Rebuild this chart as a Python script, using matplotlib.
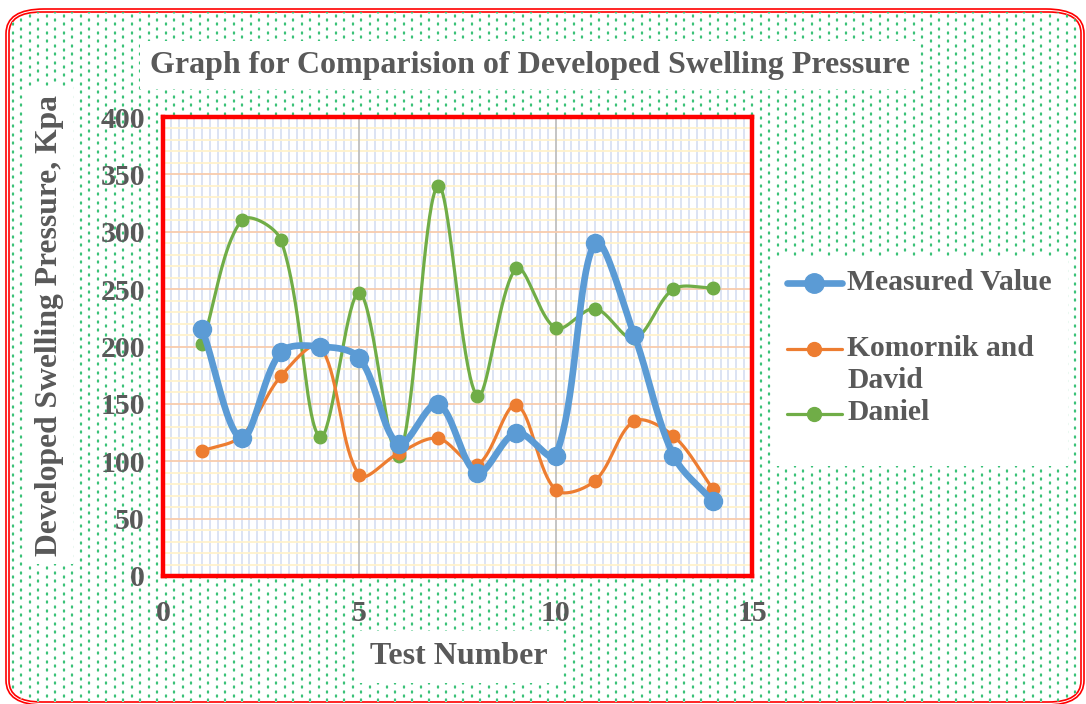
import numpy as np
import matplotlib
matplotlib.use("Agg")
import matplotlib.pyplot as plt
from matplotlib.patches import FancyBboxPatch, Rectangle
from matplotlib.lines import Line2D

tests = [1, 2, 3, 4, 5, 6, 7, 8, 9, 10, 11, 12, 13, 14]
measured = [215, 120, 195, 200, 190, 115, 150, 90, 125, 105, 290, 210, 105, 65]
komornik = [109, 122, 174, 200, 88, 107, 120, 97, 149, 75, 83, 135, 122, 76]
daniel = [202, 310, 293, 121, 247, 105, 340, 157, 268, 216, 233, 207, 250, 251]
series_names = ["Measured Value", "Komornik and\nDavid", "Daniel"]
colors = ["#5B9BD5", "#ED7D31", "#70AD47"]
x_ticks = [0, 5, 10, 15]
y_ticks = [0, 50, 100, 150, 200, 250, 300, 350, 400]

title = "Graph for Comparision of Developed Swelling Pressure"
xlabel = "Test Number"
ylabel = "Developed Swelling Pressure, Kpa"

TXT = "#595959"
FONT = "Liberation Serif"
W, H = 1086, 704

AX_L, AX_R, AX_T, AX_B = 163, 752, 117, 576
XMAX, YMAX = 15, 400
SX = (AX_R - AX_L) / XMAX
SY = (AX_B - AX_T) / YMAX

def smooth(x, y, n=40):
    # Excel-like smoothing: Bezier segments with length-weighted control points (screen space)
    P = np.column_stack([np.asarray(x, float) * SX, np.asarray(y, float) * SY])
    P = np.vstack([P[0], P, P[-1]])
    out = []
    for i in range(1, len(P) - 2):
        p0, p1, p2, p3 = P[i - 1], P[i], P[i + 1], P[i + 2]
        d01 = np.linalg.norm(p1 - p0)
        d12 = np.linalg.norm(p2 - p1)
        d23 = np.linalg.norm(p3 - p2)
        f1 = d12 / (3 * (d01 + d12)) if d01 + d12 > 0 else 0
        f2 = d12 / (3 * (d12 + d23)) if d12 + d23 > 0 else 0
        c1 = p1 + (p2 - p0) * f1
        c2 = p2 - (p3 - p1) * f2
        t = np.linspace(0, 1, n)[:, None]
        seg = ((1 - t) ** 3) * p1 + 3 * ((1 - t) ** 2) * t * c1 + 3 * (1 - t) * t ** 2 * c2 + t ** 3 * p2
        out.append(seg if i == 1 else seg[1:])
    s = np.vstack(out)
    return s[:, 0] / SX, s[:, 1] / SY

fig = plt.figure(figsize=(W / 100, H / 100), dpi=100)
fig.patch.set_facecolor("white")

def fx(px): return px / W
def fy(py): return 1 - py / H

border = FancyBboxPatch((fx(9), fy(702)), fx(1081) - fx(9), fy(12) - fy(702),
                        boxstyle="round,pad=0,rounding_size=0.03",
                        transform=fig.transFigure, facecolor="white",
                        edgecolor="red", linewidth=1.2, zorder=0)
fig.add_artist(border)
border2 = FancyBboxPatch((fx(6), fy(705)), fx(1084) - fx(6), fy(9) - fy(705),
                         boxstyle="round,pad=0,rounding_size=0.035",
                         transform=fig.transFigure, facecolor="none",
                         edgecolor="red", linewidth=1.2, zorder=0.5)
fig.add_artist(border2)

period = 8.5
dxs, dys = [], []
for i in range(int(W / period) + 2):
    xx = 4 + i * period
    off = (i % 2) * period / 2
    for j in range(int(H / period) + 2):
        yy = 3 + off + j * period
        dxs.append(fx(xx)); dys.append(fy(yy))
dots = fig.add_artist(Line2D(dxs, dys, linestyle="none", marker="s", markersize=1.5,
                             markerfacecolor="#00B050", markeredgecolor="#9fe0bd",
                             markeredgewidth=0.3, transform=fig.transFigure, zorder=0.2))
dots.set_clip_path(border)

ax = fig.add_axes([fx(AX_L), fy(AX_B), fx(AX_R) - fx(AX_L), fy(AX_T) - fy(AX_B)])
ax.set_facecolor("white")
ax.set_zorder(2)
ax.set_xlim(0, XMAX)
ax.set_ylim(0, YMAX)

for v in np.arange(0.2, 15, 0.2):
    if abs(v - round(v / 5) * 5) < 1e-6:
        continue
    ax.axvline(v, color="#D9E1F2", lw=1.3, zorder=0.5)
for v in [5, 10]:
    ax.axvline(v, color="#BFBFBF", lw=1.3, zorder=0.7)
for v in range(10, 400, 10):
    if v % 50 == 0:
        continue
    ax.axhline(v, color="#FFF2CC", lw=1.3, zorder=0.6)
for v in range(50, 400, 50):
    ax.axhline(v, color="#F8CBAD", lw=1.3, zorder=0.8)

data = [measured, komornik, daniel]
lws = [4.8, 2.3, 2.3]
mss = [13, 9, 9]
order = [2, 1, 0]
for k in order:
    sx, sy = smooth(tests, data[k])
    ax.plot(sx, sy, color=colors[k], lw=lws[k], solid_capstyle="round", zorder=3 + (2 - k) * 0.1)
    ax.plot(tests, data[k], linestyle="none", marker="o", markersize=mss[k],
            color=colors[k], zorder=3 + (2 - k) * 0.1)

for s in ax.spines.values():
    s.set_color("red")
    s.set_linewidth(3.2)

ax.set_xticks(x_ticks)
ax.set_yticks(y_ticks)
ax.tick_params(length=0, colors=TXT)
ax.tick_params(axis="x", pad=17)
ax.tick_params(axis="y", pad=13)
for lab in ax.get_xticklabels() + ax.get_yticklabels():
    lab.set_fontfamily(FONT)
    lab.set_fontweight("bold")
    lab.set_fontsize(21.5)
    lab.set_color(TXT)

fig.text(fx(530), fy(65), title, ha="center", va="center", fontsize=23,
         fontweight="bold", fontfamily=FONT, color=TXT, bbox=dict(facecolor="white", edgecolor="none", pad=7))
fig.text(fx(459), fy(657), xlabel, ha="center", va="center", fontsize=23,
         fontweight="bold", fontfamily=FONT, color=TXT, bbox=dict(facecolor="white", edgecolor="none", pad=8))
fig.text(fx(50), fy(325), ylabel, ha="center", va="center", rotation=90, fontsize=22.8,
         fontweight="bold", fontfamily=FONT, color=TXT, bbox=dict(facecolor="white", edgecolor="none", pad=6))

# legend
fig.add_artist(Rectangle((fx(772), fy(466)), fx(1068) - fx(772), fy(256) - fy(466),
                         transform=fig.transFigure, facecolor="white", edgecolor="none", zorder=1))
leg_y = [283, 349, 414]
for k in range(3):
    yy = fy(leg_y[k])
    fig.add_artist(Line2D([fx(787), fx(842)], [yy, yy], color=colors[k], lw=lws[k],
                          solid_capstyle="round", transform=fig.transFigure, zorder=3))
    fig.add_artist(Line2D([fx(814)], [yy], marker="o", markersize=mss[k] + 1, color=colors[k],
                          transform=fig.transFigure, zorder=3))
legend_lines = [("Measured Value", 283), ("Komornik and", 349), ("David", 381), ("Daniel", 413)]
for txt, py in legend_lines:
    fig.text(fx(847), fy(py), txt, ha="left", va="center", fontsize=21.3,
             fontweight="bold", fontfamily=FONT, color=TXT, zorder=3)

fig.savefig("out.png", dpi=100, facecolor="white")
